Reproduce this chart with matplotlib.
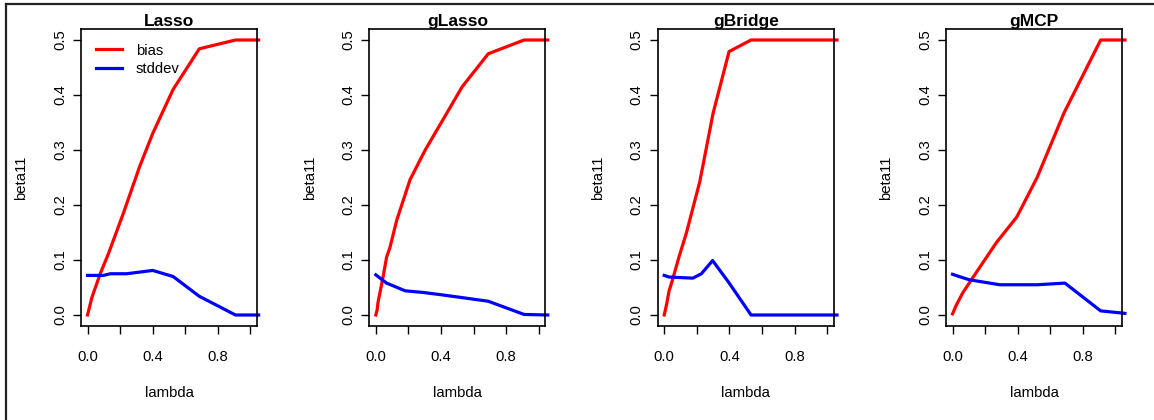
import numpy as np
import matplotlib.pyplot as plt
from matplotlib.lines import Line2D

plt.rcParams['font.family'] = ['Liberation Sans', 'DejaVu Sans']

methods = ['Lasso', 'gLasso', 'gBridge', 'gMCP']

# lambda / bias / stddev
lasso_bias_x = [0.0, 0.027, 0.078, 0.129, 0.22, 0.32, 0.40, 0.525, 0.686, 0.908, 1.05]
lasso_bias_y = [0.0, 0.032, 0.075, 0.112, 0.185, 0.27, 0.33, 0.41, 0.484, 0.5, 0.5]
lasso_sd_x = [0.0, 0.098, 0.14, 0.24, 0.40, 0.525, 0.686, 0.908, 1.05]
lasso_sd_y = [0.072, 0.072, 0.075, 0.075, 0.081, 0.070, 0.034, 0.0, 0.0]

glasso_bias_x = [0.0, 0.008, 0.014, 0.025, 0.045, 0.066, 0.087, 0.128, 0.21, 0.303, 0.406, 0.53, 0.69, 0.91, 1.055]
glasso_bias_y = [0.0, 0.009, 0.024, 0.04, 0.07, 0.105, 0.123, 0.172, 0.246, 0.30, 0.352, 0.415, 0.475, 0.5, 0.5]
glasso_sd_x = [0.0, 0.066, 0.18, 0.29, 0.396, 0.52, 0.69, 0.91, 1.055]
glasso_sd_y = [0.073, 0.058, 0.044, 0.041, 0.037, 0.032, 0.025, 0.001, 0.0]

gbridge_bias_x = [0.0, 0.015, 0.03, 0.05, 0.093, 0.135, 0.218, 0.30, 0.398, 0.533, 1.06]
gbridge_bias_y = [0.0, 0.02, 0.044, 0.063, 0.108, 0.148, 0.242, 0.367, 0.479, 0.5, 0.5]
gbridge_sd_x = [0.0, 0.03, 0.176, 0.228, 0.297, 0.394, 0.533, 1.06]
gbridge_sd_y = [0.072, 0.069, 0.067, 0.075, 0.099, 0.060, 0.0, 0.0]

gmcp_bias_x = [0.0, 0.02, 0.062, 0.145, 0.27, 0.394, 0.519, 0.685, 0.909, 1.058]
gmcp_bias_y = [0.002, 0.016, 0.04, 0.077, 0.132, 0.178, 0.25, 0.368, 0.5, 0.5]
gmcp_sd_x = [0.0, 0.04, 0.104, 0.29, 0.519, 0.69, 0.909, 1.058]
gmcp_sd_y = [0.074, 0.070, 0.064, 0.055, 0.055, 0.058, 0.0075, 0.003]

bias_x = [lasso_bias_x, glasso_bias_x, gbridge_bias_x, gmcp_bias_x]
bias_y = [lasso_bias_y, glasso_bias_y, gbridge_bias_y, gmcp_bias_y]
sd_x = [lasso_sd_x, glasso_sd_x, gbridge_sd_x, gmcp_sd_x]
sd_y = [lasso_sd_y, glasso_sd_y, gbridge_sd_y, gmcp_sd_y]

xticks = [0.0, 0.2, 0.4, 0.6, 0.8, 1.0]
xticklabels = ['0.0', '', '0.4', '', '0.8', '']
yticks = [0.0, 0.1, 0.2, 0.3, 0.4, 0.5]

W, H = 1154, 420
fig = plt.figure(figsize=(W / 100, H / 100), dpi=100)
fs = 10.7

lefts = [81, 369.3, 657.7, 946]
for i in range(4):
    ax = fig.add_axes([lefts[i] / W, (H - 326) / H, 176 / W, 297 / H])
    ax.plot(bias_x[i], bias_y[i], color='red', lw=2.3, clip_on=False, label='bias')
    ax.plot(sd_x[i], sd_y[i], color='blue', lw=2.3, clip_on=False, label='stddev')
    ax.set_xlim(-0.04, 1.04)
    ax.set_ylim(-0.02, 0.52)
    ax.set_xticks(xticks)
    ax.set_xticklabels(xticklabels)
    ax.set_yticks(yticks)
    ax.set_yticklabels(['%.1f' % v for v in yticks], rotation=90, va='center')
    ax.tick_params(axis='both', direction='out', length=6, width=1, labelsize=fs)
    ax.tick_params(axis='x', pad=11)
    ax.tick_params(axis='y', pad=4)
    for s in ax.spines.values():
        s.set_linewidth(1.2)
    ax.set_title(methods[i], fontsize=12.5, fontweight='bold', pad=1)
    ax.annotate('lambda', xy=(0.5, 0), xycoords='axes fraction', xytext=(0, -48),
                textcoords='offset points', ha='center', va='center', fontsize=fs)
    ax.annotate('beta11', xy=(0, 0.5), xycoords='axes fraction', xytext=(-43, 0),
                textcoords='offset points', ha='center', va='center', rotation=90, fontsize=fs)
    if i == 0:
        ax.legend(loc='upper left', bbox_to_anchor=(0.083, 0.951), frameon=False,
                  fontsize=fs, handlelength=1.8, handletextpad=0.9, labelspacing=0.3,
                  borderpad=0, borderaxespad=0)

# outer frame (left and top edges visible)
fig.add_artist(Line2D([6 / W, 6 / W], [0, 1 - 4 / H], color='#222222', lw=1.6))
fig.add_artist(Line2D([6 / W, 1], [1 - 4 / H, 1 - 4 / H], color='#222222', lw=1.6))

fig.savefig('out.png', dpi=100)
